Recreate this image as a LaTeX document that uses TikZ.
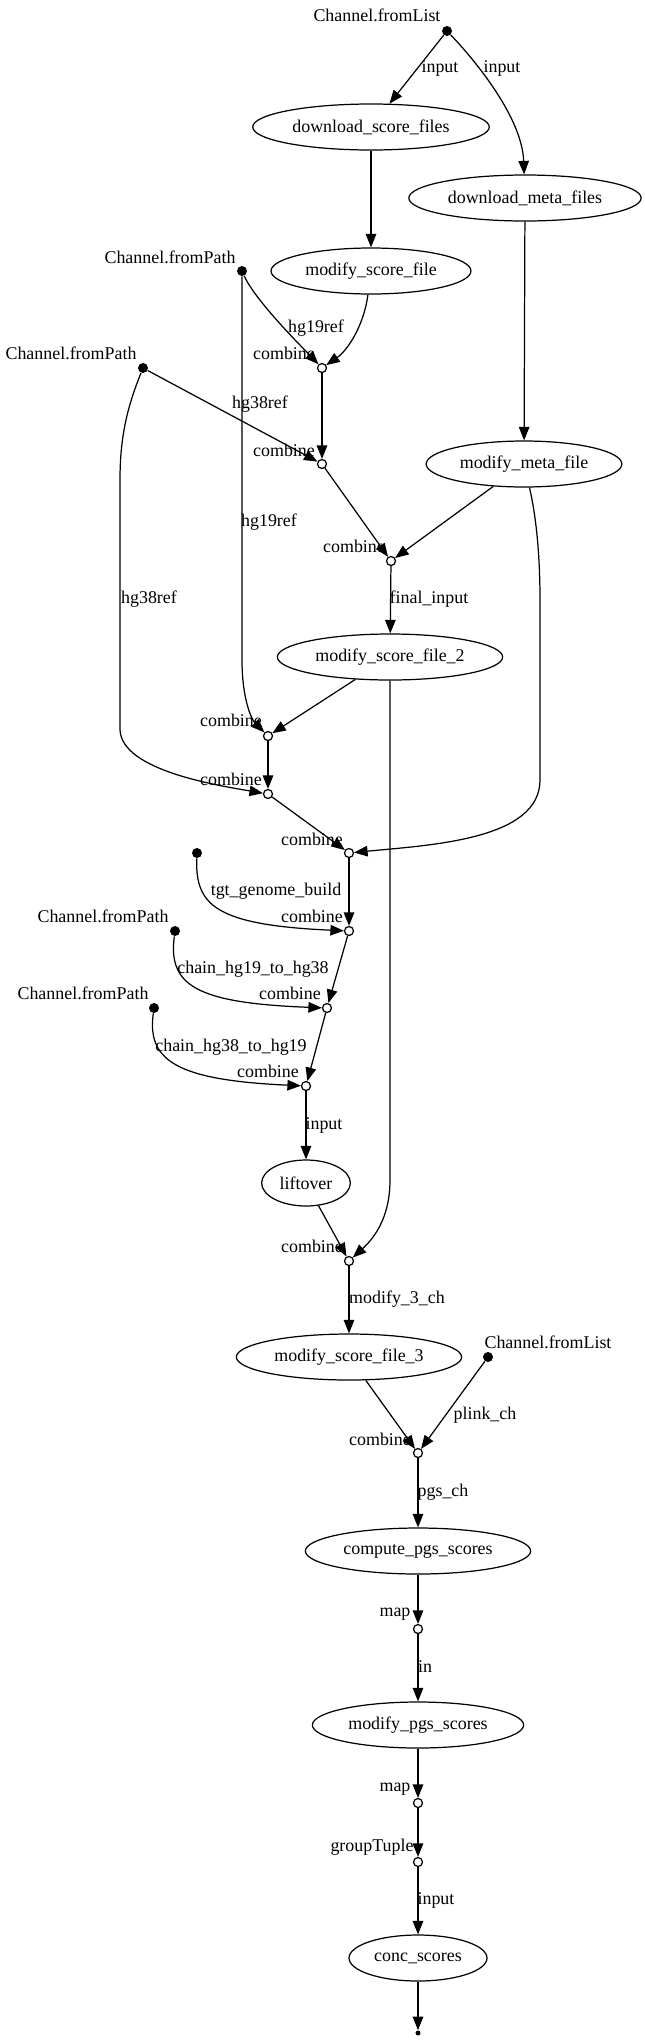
\documentclass[tikz,border=0pt]{standalone}
\usepackage{fontspec}
\setmainfont{Liberation Serif}
\usetikzlibrary{arrows.meta,shapes.geometric}
\begin{document}
\begin{tikzpicture}[
    x=0.02cm, y=-0.02cm,
    font=\fontsize{10.2pt}{12pt}\selectfont,
    proc/.style={ellipse, draw, line width=0.7pt, minimum height=0.92cm, inner xsep=1mm, inner ysep=0pt},
    op/.style={circle, draw, line width=0.7pt, fill=white, inner sep=0pt, minimum size=1.8mm},
    src/.style={circle, fill=black, inner sep=0pt, minimum size=2mm},
    sink/.style={circle, fill=black, inner sep=0pt, minimum size=1mm},
    lbl/.style={inner sep=0pt},
    arrow/.style={-{Triangle[length=2.7mm, width=2.1mm]}, line width=0.7pt}
]
\useasboundingbox (0,0) rectangle (645,2042);

% channel sources
\node[src] (list1) at (447,31) {};
\node[lbl] (list1_lbl) at (377,15) {Channel.fromList};
\node[src] (path1) at (242,271) {};
\node[lbl] (path1_lbl) at (170,257) {Channel.fromPath};
\node[src] (path2) at (143,368) {};
\node[lbl] (path2_lbl) at (71,353) {Channel.fromPath};
\node[src] (build) at (197,853) {};
\node[src] (path3) at (175,931) {};
\node[lbl] (path3_lbl) at (103,916) {Channel.fromPath};
\node[src] (path4) at (154,1008) {};
\node[lbl] (path4_lbl) at (83,993) {Channel.fromPath};
\node[src] (list2) at (488,1357) {};
\node[lbl] (list2_lbl) at (548,1342) {Channel.fromList};

% processes
\node[proc] (dsf) at (371,127) {download\_score\_files};
\node[proc] (dmf) at (525,198) {download\_meta\_files};
\node[proc] (msf) at (371,271) {modify\_score\_file};
\node[proc] (mmf) at (524,464) {modify\_meta\_file};
\node[proc] (msf2) at (390,657) {modify\_score\_file\_2};
\node[proc] (lift) at (306,1183) {liftover};
\node[proc] (msf3) at (349,1357) {modify\_score\_file\_3};
\node[proc] (pgs) at (418,1551) {compute\_pgs\_scores};
\node[proc] (mps) at (418,1725) {modify\_pgs\_scores};
\node[proc] (conc) at (418,1958) {conc\_scores};
\node[sink] (finish) at (418,2033) {};

% operators
\node[op] (c1) at (322,368) {};
\node[lbl] (c1_lbl) at (284,353) {combine};
\node[op] (c2) at (322,464) {};
\node[lbl] (c2_lbl) at (284,450) {combine};
\node[op] (c3) at (391,561) {};
\node[lbl] (c3_lbl) at (354,546) {combine};
\node[op] (c4) at (268,736) {};
\node[lbl] (c4_lbl) at (231,720) {combine};
\node[op] (c5) at (268,794) {};
\node[lbl] (c5_lbl) at (231,779) {combine};
\node[op] (c6) at (349,853) {};
\node[lbl] (c6_lbl) at (312,839) {combine};
\node[op] (c7) at (349,931) {};
\node[lbl] (c7_lbl) at (312,916) {combine};
\node[op] (c8) at (327,1008) {};
\node[lbl] (c8_lbl) at (290,993) {combine};
\node[op] (c9) at (306,1086) {};
\node[lbl] (c9_lbl) at (268,1071) {combine};
\node[op] (c10) at (349,1261) {};
\node[lbl] (c10_lbl) at (312,1246) {combine};
\node[op] (c11) at (418,1453) {};
\node[lbl] (c11_lbl) at (380,1439) {combine};
\node[op] (m1) at (418,1629) {};
\node[lbl] (m1_lbl) at (395,1614) {map};
\node[op] (m2) at (418,1803) {};
\node[lbl] (m2_lbl) at (395,1789) {map};
\node[op] (g1) at (418,1862) {};
\node[lbl] (g1_lbl) at (372,1847) {groupTuple};

% edge labels
\node[lbl] (e_in1) at (440,68) {input};
\node[lbl] (e_in2) at (502,68) {input};
\node[lbl] (e_hg19a) at (316,328) {hg19ref};
\node[lbl] (e_hg38a) at (260,404) {hg38ref};
\node[lbl] (e_hg19b) at (269,522) {hg19ref};
\node[lbl] (e_hg38b) at (149,599) {hg38ref};
\node[lbl] (e_final) at (429,599) {final\_input};
\node[lbl] (e_build) at (276,891) {tgt\_genome\_build};
\node[lbl] (e_chain1) at (253,969) {chain\_hg19\_to\_hg38};
\node[lbl] (e_chain2) at (231,1047) {chain\_hg38\_to\_hg19};
\node[lbl] (e_in3) at (324,1125) {input};
\node[lbl] (e_mod3) at (397,1299) {modify\_3\_ch};
\node[lbl] (e_plink) at (485,1415) {plink\_ch};
\node[lbl] (e_pgs) at (443,1492) {pgs\_ch};
\node[lbl] (e_in) at (425,1667) {in};
\node[lbl] (e_in4) at (436,1900) {input};

% arrows, upper part
\draw[arrow] (list1) -- (dsf);
\draw[arrow] (list1) .. controls (470,55) and (522,115) .. (dmf);
\draw[arrow] (dsf) -- (msf);
\draw[arrow] (dmf) -- (mmf);
\draw[arrow] (msf) .. controls (364,325) and (348,350) .. (c1);
\draw[arrow] (path1) .. controls (255,300) and (300,345) .. (c1);
\draw[arrow] (c1) -- (c2);
\draw[arrow] (path2) -- (c2);
\draw[arrow] (c2) -- (c3);
\draw[arrow] (mmf) -- (c3);
\draw[arrow] (c3) -- (msf2);
\draw[arrow] (path1) -- (242,660) .. controls (242,700) and (252,720) .. (c4);
\draw[arrow] (msf2) -- (c4);
\draw[arrow] (c4) -- (c5);
\draw[arrow] (path2) .. controls (126,410) and (120,440) .. (120,480) -- (120,730) .. controls (122,770) and (215,785) .. (c5);
\draw[arrow] (c5) -- (c6);
\draw[arrow] (mmf) .. controls (537,520) and (540,560) .. (540,600) -- (540,780) .. controls (540,840) and (430,845) .. (c6);

% arrows, liftover chain
\draw[arrow] (build) .. controls (195,905) and (215,925) .. (c7);
\draw[arrow] (c6) -- (c7);
\draw[arrow] (path3) .. controls (168,985) and (195,1003) .. (c8);
\draw[arrow] (c7) -- (c8);
\draw[arrow] (path4) .. controls (147,1060) and (175,1080) .. (c9);
\draw[arrow] (c8) -- (c9);
\draw[arrow] (c9) -- (lift);
\draw[arrow] (lift) -- (c10);
\draw[arrow] (msf2) -- (390,1180) .. controls (390,1220) and (372,1240) .. (c10);

% arrows, lower part
\draw[arrow] (c10) -- (msf3);
\draw[arrow] (msf3) -- (c11);
\draw[arrow] (list2) -- (c11);
\draw[arrow] (c11) -- (pgs);
\draw[arrow] (pgs) -- (m1);
\draw[arrow] (m1) -- (mps);
\draw[arrow] (mps) -- (m2);
\draw[arrow] (m2) -- (g1);
\draw[arrow] (g1) -- (conc);
\draw[arrow] (conc) -- (finish);

\end{tikzpicture}
\end{document}
